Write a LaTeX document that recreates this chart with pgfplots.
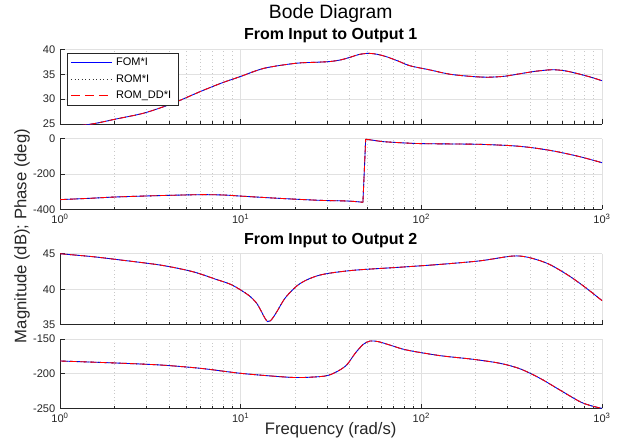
\documentclass[border=0pt]{standalone}
\usepackage{fontspec}
\setmainfont{Liberation Sans}
\usepackage{pgfplots}
\pgfplotsset{compat=1.18}

\definecolor{axgray}{RGB}{38,38,38}
\definecolor{gridgray}{RGB}{225,225,225}
\definecolor{minorgray}{RGB}{200,200,200}
\definecolor{fomblue}{RGB}{0,0,255}
\definecolor{romddred}{RGB}{255,0,0}

% Frequency response data (w in rad/s)
\newcommand{\magA}{(1,24.2) (1.5,25.0) (2.04,26.0) (2.92,27.2) (4.17,29.1) (5.96,31.5) (7.8,33.2) (9.9,34.5) (13.5,36.2) (20.2,37.2) (26,37.4) (31.2,37.55) (36,37.9) (40.3,38.4) (45,38.95) (50.9,39.2) (57,39.0) (64.3,38.5) (75,37.6) (86.5,36.7) (111.7,35.86) (144,35.0) (190,34.55) (234,34.4) (290,34.6) (352,35.1) (430,35.6) (529,35.9) (620,35.7) (718,35.2) (850,34.5) (1000,33.7)}
\newcommand{\phAlow}{(1,-345) (1.5,-337) (2.04,-330) (3.6,-322) (6,-317) (8.1,-319) (10,-325) (16.5,-338) (27.5,-349) (39.3,-353) (47.5,-360)}
\newcommand{\phAhigh}{(49.2,-3) (55,-10) (62,-17) (80,-24) (100,-28) (150,-30) (211,-32) (318,-40) (410,-51) (500,-64) (585,-77) (755,-102) (1000,-136)}
\newcommand{\magB}{(1,45.0) (1.5,44.6) (2.04,44.2) (3.6,43.4) (5.38,42.5) (7.3,41.4) (8.95,40.6) (11,39.2) (12.2,38.1) (13.0,36.9) (13.6,35.95) (14.1,35.45) (14.6,35.55) (15.2,36.1) (16.0,37.0) (17.8,38.9) (21.3,40.8) (27.5,42.0) (41.3,42.65) (76,43.1) (127,43.5) (211,44.0) (318,44.67) (389,44.5) (502,43.6) (647,42.0) (795,40.4) (1000,38.4)}
\newcommand{\phB}{(1,-181.7) (2.04,-184.6) (3.6,-187.5) (6,-192.3) (10,-199.5) (16.5,-204.3) (21.3,-205.6) (29.3,-203.4) (34,-197.2) (38.6,-187.5) (43,-170.7) (47.7,-157.7) (52,-152.9) (57.8,-153.8) (67,-158.7) (83,-165.9) (127,-174) (190,-179) (272,-185) (352,-193) (454,-206.7) (585,-223.6) (755,-240.4) (880,-246.6) (1000,-250)}

\pgfplotsset{
  bodeaxis/.style={
    xmin=1, xmax=1000,
    scale only axis, width=406.5pt,
    axis x line*=bottom, axis y line*=left,
    axis line style={axgray, line width=0.5pt},
    tick align=inside,
    major tick length=3.5pt, minor tick length=2pt,
    tick style={axgray, line width=0.4pt},
    xtick={1,10,100,1000},
    grid=both,
    major grid style={gridgray, line width=0.5pt},
    minor grid style={minorgray, dash pattern=on 0.5pt off 2.2pt, line width=0.4pt},
    tick label style={font=\fontsize{8.3}{10}\selectfont, text=axgray},
  },
  xlabs/.style={xticklabels={10\textsuperscript{0},10\textsuperscript{1},10\textsuperscript{2},10\textsuperscript{3}}},
  noxlabs/.style={xticklabels={}},
}
\tikzset{
  fom/.style={fomblue, line width=0.65pt, smooth, tension=0.5},
  rom/.style={black!80, dotted, line width=0.6pt, smooth, tension=0.5},
  romdd/.style={romddred, dash pattern=on 5pt off 2.5pt, line width=0.65pt, smooth, tension=0.5},
}

\begin{document}
\begin{tikzpicture}
\path[use as bounding box, fill=white] (0,0) rectangle (468pt,-330pt);

% Output 1 magnitude
\begin{semilogxaxis}[bodeaxis, noxlabs, at={(45pt,-37pt)}, anchor=north west, height=56pt,
  ymin=25, ymax=40, ytick={25,30,35,40}, yticklabels={25,30,35,40},
  legend style={at={(0.0125,0.95)}, anchor=north west, draw=axgray,
    font=\fontsize{8.25}{10}\selectfont, row sep=1pt, inner xsep=2.5pt, inner ysep=1.5pt,
    cells={anchor=west}, nodes={inner xsep=2.5pt}}]
\addlegendimage{legend image code/.code={\draw[fomblue, line width=0.7pt] (0pt,0pt) -- (31pt,0pt);}}
\addlegendentry{FOM*I}
\addlegendimage{legend image code/.code={\draw[black!80, dotted, line width=0.7pt] (0pt,0pt) -- (31pt,0pt);}}
\addlegendentry{ROM*I}
\addlegendimage{legend image code/.code={\draw[romddred, dash pattern=on 7pt off 3.5pt, line width=0.8pt] (0pt,0pt) -- (31pt,0pt);}}
\addlegendentry{ROM\_DD*I}
\addplot[fom, forget plot] coordinates {\magA};
\addplot[rom, forget plot] coordinates {\magA};
\addplot[romdd, forget plot] coordinates {\magA};
\end{semilogxaxis}

% Output 1 phase (wraps by 360 deg near 48 rad/s)
\begin{semilogxaxis}[bodeaxis, xlabs, at={(45pt,-104pt)}, anchor=north west, height=53pt,
  ymin=-400, ymax=0, ytick={-400,-200,0}, yticklabels={-400,-200,0}]
\addplot[fom] coordinates {\phAlow};
\addplot[fom] coordinates {(47.5,-360) (49.2,-3)};
\addplot[fom] coordinates {\phAhigh};
\addplot[rom] coordinates {\phAlow};
\addplot[rom] coordinates {(47.5,-360) (49.2,-3)};
\addplot[rom] coordinates {\phAhigh};
\addplot[romdd] coordinates {\phAlow};
\addplot[romdd] coordinates {(47.5,-360) (49.2,-3)};
\addplot[romdd] coordinates {\phAhigh};
\end{semilogxaxis}

% Output 2 magnitude
\begin{semilogxaxis}[bodeaxis, noxlabs, at={(45pt,-190.3pt)}, anchor=north west, height=53.25pt,
  ymin=35, ymax=45, ytick={35,40,45}, yticklabels={35,40,45}]
\addplot[fom] coordinates {\magB};
\addplot[rom] coordinates {\magB};
\addplot[romdd] coordinates {\magB};
\end{semilogxaxis}

% Output 2 phase
\begin{semilogxaxis}[bodeaxis, xlabs, at={(45pt,-254.25pt)}, anchor=north west, height=52pt,
  ymin=-250, ymax=-150, ytick={-250,-200,-150}, yticklabels={-250,-200,-150}]
\addplot[fom] coordinates {\phB};
\addplot[rom] coordinates {\phB};
\addplot[romdd] coordinates {\phB};
\end{semilogxaxis}

% Titles and labels
\node[font=\fontsize{14.5}{16}\selectfont] at (248pt,-9.75pt) {Bode Diagram};
\node[font=\fontsize{12}{14}\selectfont\bfseries] at (248pt,-27pt) {From Input to Output 1};
\node[font=\fontsize{12}{14}\selectfont\bfseries] at (248pt,-180.75pt) {From Input to Output 2};
\node[font=\fontsize{12.5}{14}\selectfont, text=axgray] at (248pt,-322.5pt) {Frequency (rad/s)};
\node[font=\fontsize{12.5}{14}\selectfont, text=axgray, rotate=90] at (16.5pt,-177pt) {Magnitude (dB); Phase (deg)};
\end{tikzpicture}
\end{document}
